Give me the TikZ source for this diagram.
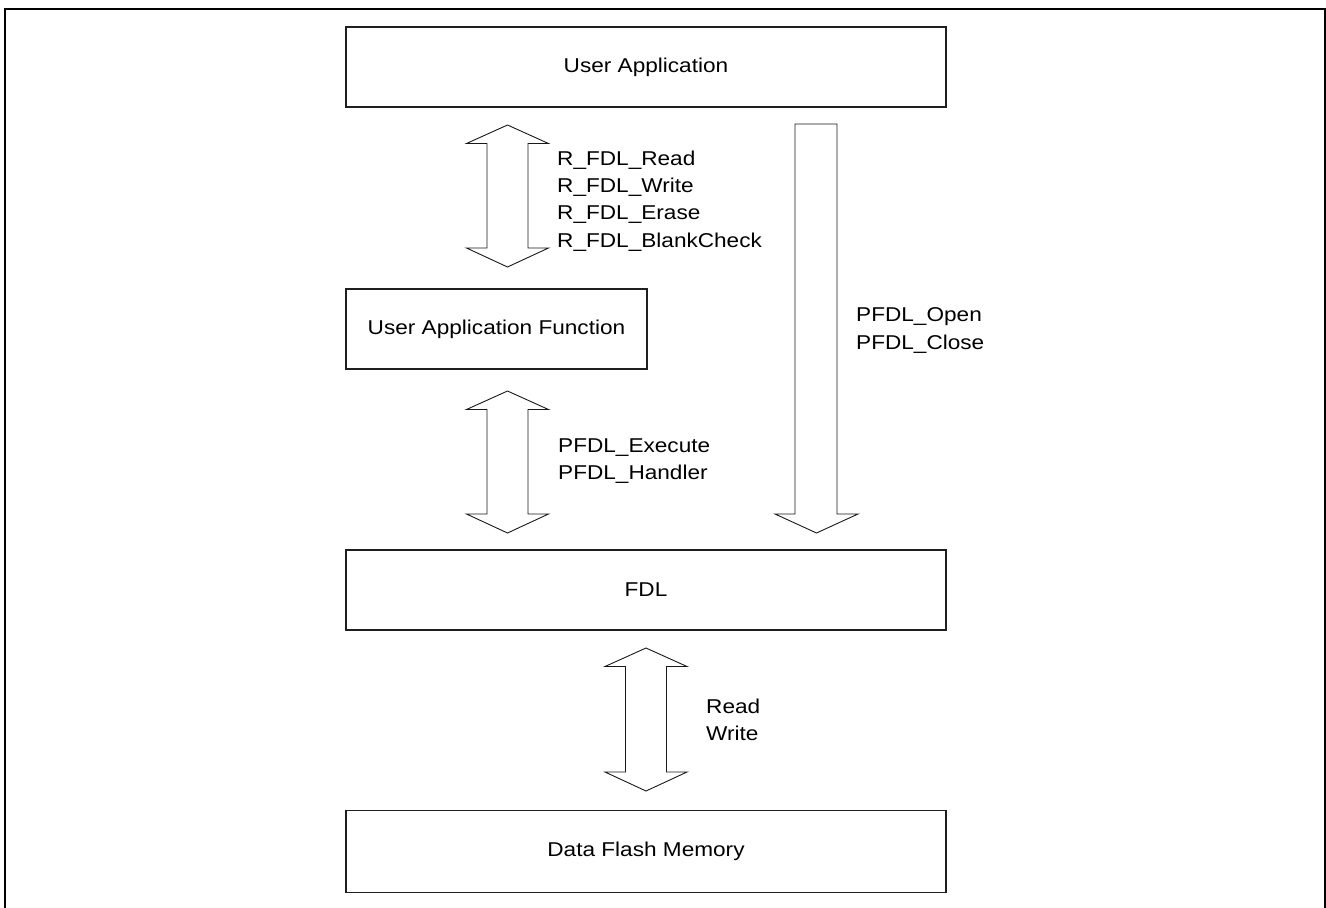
\documentclass[tikz,border=0pt]{standalone}
\usepackage{fontspec}
\setmainfont{Liberation Sans}[FakeStretch=1.13]
\newcommand\myfs{\fontsize{20}{27.3}\selectfont}
\newcommand\dblarr[3]{%
  \draw[barrow] (#1,#2) -- (#1+41,#2+18.5) -- (#1+20.5,#2+18.5) -- (#1+20.5,#3-19) -- (#1+41,#3-19)
    -- (#1,#3) -- (#1-41,#3-19) -- (#1-20.5,#3-19) -- (#1-20.5,#2+18.5) -- (#1-41,#2+18.5) -- cycle;}
\begin{document}
\begin{tikzpicture}[x=1pt,y=-1pt,
  box/.style={draw=black!88, line width=1.3pt, inner sep=0pt, font=\myfs},
  lbl/.style={anchor=north west, align=left, inner sep=0pt, font=\myfs},
  barrow/.style={draw=black!90, line width=0.9pt, line join=miter, fill=white},
  frame/.style={draw=black, line width=2pt}]
\useasboundingbox (0,0) rectangle (1326,908);
\draw[frame] (5,915) -- (5,9) -- (1325,9) -- (1325,915);

\node[box, minimum width=600pt, minimum height=80pt] (ua) at (646,67) {User Application};
\node[box, minimum width=301pt, minimum height=80pt] (uaf) at (496.5,329) {User Application Function};
\node[box, minimum width=600pt, minimum height=80pt] (fdl) at (646,590) {FDL};
\node[box, minimum width=600pt, minimum height=82pt] (dfm) at (646,851.5) {Data Flash Memory};

\dblarr{507.5}{125}{267}
\dblarr{507.5}{391}{533}
\dblarr{646}{648}{791}
\draw[barrow] (795,124) -- (837,124) -- (837,514) -- (858,514) -- (816.5,533) -- (775,514) -- (795,514) -- cycle;

\node[lbl] (l1) at (557,150.5) {R\_FDL\_Read\\R\_FDL\_Write\\R\_FDL\_Erase\\R\_FDL\_BlankCheck};
\node[lbl] (l2) at (558,438.7) {PFDL\_Execute\\PFDL\_Handler};
\node[lbl] (l3) at (856,307.7) {PFDL\_Open\\PFDL\_Close};
\node[lbl] (l4) at (706,698.7) {Read\\Write};
\end{tikzpicture}
\end{document}
